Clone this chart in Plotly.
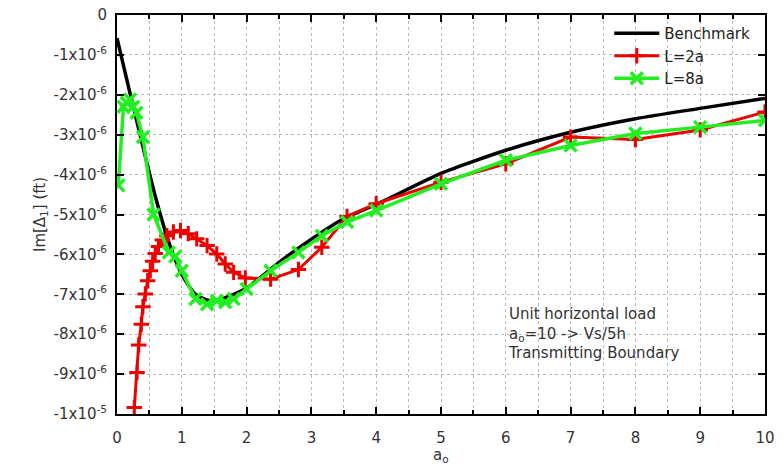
import plotly.graph_objects as go

# Benchmark (scaled 1e-6)
bench_x = [0, 0.2, 0.4, 0.6, 0.8, 1.0, 1.2, 1.4, 1.6, 1.8, 2.0, 2.5, 3.0, 3.5, 4.0, 5.0, 6.0, 7.0, 8.0, 9.0, 10.0]
bench_y = [-0.58, -1.95, -3.3, -4.6, -5.7, -6.5, -6.98, -7.15, -7.12, -7.0, -6.85, -6.2, -5.62, -5.1, -4.75,
           -3.97, -3.39, -2.94, -2.6, -2.34, -2.09]

# L=2a
l2_x = [0.267, 0.31, 0.335, 0.375, 0.40, 0.437, 0.473, 0.514, 0.55, 0.59, 0.64, 0.70, 0.77, 0.87, 0.98,
        1.10, 1.23, 1.39, 1.54, 1.67, 1.80, 1.98, 2.37, 2.80, 3.16, 3.55, 4.0, 5.0, 6.0, 7.0, 8.0, 9.0, 10.0]
l2_y = [-9.84, -8.96, -8.27, -7.75, -7.31, -6.99, -6.66, -6.41, -6.17, -5.98, -5.80, -5.64, -5.53, -5.44, -5.40,
        -5.48, -5.61, -5.78, -5.99, -6.24, -6.45, -6.59, -6.62, -6.38, -5.82, -5.05, -4.73, -4.19, -3.73,
        -3.06, -3.12, -2.88, -2.43]

# L=8a
l8_x = [0.02, 0.10, 0.15, 0.20, 0.25, 0.30, 0.40, 0.565, 0.80, 0.90, 1.0, 1.21, 1.39, 1.54, 1.67, 1.80, 2.0,
        2.37, 2.80, 3.16, 3.55, 4.0, 5.0, 6.0, 7.0, 8.0, 9.0, 10.0]
l8_y = [-4.27, -2.30, -2.20, -2.12, -2.30, -2.45, -3.06, -5.0, -5.95, -6.05, -6.41, -7.12, -7.25, -7.16, -7.2,
        -7.12, -6.87, -6.41, -5.95, -5.53, -5.19, -4.90, -4.23, -3.64, -3.27, -2.97, -2.81, -2.64]

y_tickvals = [0, -1, -2, -3, -4, -5, -6, -7, -8, -9, -10]
y_ticktext = ["0"] + ["-%dx10<sup>-6</sup>" % k for k in range(1, 10)] + ["-1x10<sup>-5</sup>"]
x_tickvals = list(range(0, 11))

scale = 1e-6
FONT = "DejaVu Sans"

fig = go.Figure()
fig.add_trace(go.Scatter(x=bench_x, y=[v * scale for v in bench_y], mode="lines", name="Benchmark",
                         line=dict(color="black", width=3.5, shape="spline", smoothing=0.6)))
fig.add_trace(go.Scatter(x=l2_x, y=[v * scale for v in l2_y], mode="lines+markers", name="L=2a",
                         line=dict(color="#ee0000", width=3),
                         marker=dict(symbol="cross-thin", size=11, color="#ee0000",
                                     line=dict(color="#ee0000", width=3))))
fig.add_trace(go.Scatter(x=l8_x, y=[v * scale for v in l8_y], mode="lines+markers", name="L=8a",
                         line=dict(color="#22ee22", width=3.5),
                         marker=dict(symbol="x-thin", size=12, color="#22ee22",
                                     line=dict(color="#22ee22", width=3.5))))

fig.add_annotation(x=6.0, y=-7.22e-6, xref="x", yref="y", xanchor="left", yanchor="top", align="left",
                   showarrow=False,
                   text="Unit horizontal load<br>a<sub>o</sub>=10 -&gt; Vs/5h<br>Transmitting Boundary",
                   font=dict(family=FONT, size=15, color="#333333"))

# axis titles as paper-positioned annotations
fig.add_annotation(x=0.5, y=-0.105, xref="paper", yref="paper", xanchor="center", yanchor="middle",
                   showarrow=False, text="a<sub>o</sub>", font=dict(family=FONT, size=15, color="#333333"))
fig.add_annotation(x=-0.118, y=0.5, xref="paper", yref="paper", xanchor="center", yanchor="middle",
                   showarrow=False, textangle=-90, text="Im[Δ<sub>1</sub>] (ft)",
                   font=dict(family=FONT, size=15, color="#333333"))

grid_color = "#bbbbbb"
fig.update_layout(
    width=784, height=469,
    margin=dict(l=117, r=19, t=15, b=55),
    paper_bgcolor="white", plot_bgcolor="white",
    font=dict(family=FONT, size=15, color="#333333"),
    showlegend=True,
    legend=dict(x=0.985, y=0.995, xanchor="right", yanchor="top", bgcolor="rgba(255,255,255,0)",
                font=dict(family=FONT, size=15, color="#222222"), tracegroupgap=0, itemwidth=45),
    xaxis=dict(range=[0, 10], tickvals=x_tickvals, ticks="inside", ticklen=7, tickwidth=2, tickcolor="black",
               showline=True, linecolor="black", linewidth=2, mirror="ticks", automargin=False,
               showgrid=True, gridcolor=grid_color, griddash="dot", gridwidth=1, zeroline=False,
               minor=dict(dtick=0.5, showgrid=True, gridcolor=grid_color, griddash="dot",
                          ticks="inside", ticklen=4, tickcolor="black", tickwidth=2),
               ticklabelstandoff=9, tickfont=dict(size=15)),
    yaxis=dict(range=[-1e-5, 0], tickvals=[v * scale for v in y_tickvals], ticktext=y_ticktext,
               ticks="inside", ticklen=7, tickwidth=2, tickcolor="black",
               showline=True, linecolor="black", linewidth=2, mirror="ticks", automargin=False,
               showgrid=True, gridcolor=grid_color, griddash="dot", gridwidth=1, zeroline=False,
               ticklabelstandoff=5, tickfont=dict(size=15)),
)

fig.write_html("out.html")
